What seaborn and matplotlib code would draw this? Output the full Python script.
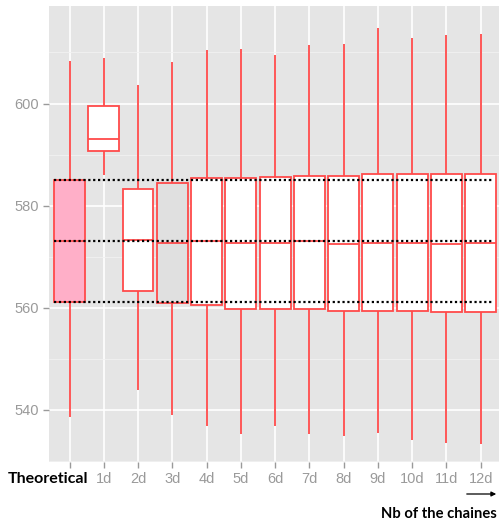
import numpy as np
import pandas as pd
import matplotlib
matplotlib.use("Agg")
import matplotlib.pyplot as plt
import seaborn as sns

categories = ["Theoretical", "1d", "2d", "3d", "4d", "5d", "6d", "7d", "8d", "9d", "10d", "11d", "12d"]
whisker_low = [538.7, 586.1, 543.9, 539.0, 536.8, 535.3, 536.8, 535.2, 534.8, 535.5, 534.1, 533.6, 533.4]
q1 = [561.2, 590.8, 563.2, 561.0, 560.5, 559.8, 559.7, 559.8, 559.4, 559.3, 559.3, 559.1, 559.1]
median = [573.1, 593.1, 573.3, 572.7, 573.1, 572.7, 572.7, 573.1, 572.5, 572.7, 572.7, 572.5, 572.7]
q3 = [585.1, 599.6, 583.2, 584.5, 585.4, 585.4, 585.6, 585.8, 585.8, 586.2, 586.2, 586.2, 586.2]
whisker_high = [608.3, 609.0, 603.6, 608.1, 610.4, 610.7, 609.6, 611.4, 611.6, 614.8, 612.9, 613.5, 613.7]
box_fill = ["#FFAFC8", "white", "white", "#E0E0E0", "white", "white", "white", "white", "white", "white", "white", "white", "white"]
reference_lines = [q3[0], median[0], q1[0]]
x_title = "Nb of the chaines"

rows = []
for i, c in enumerate(categories):
    for v in (whisker_low[i], q1[i], median[i], q3[i], whisker_high[i]):
        rows.append({"group": c, "value": v})
df = pd.DataFrame(rows)

sns.set_theme(style="darkgrid", rc={
    "axes.facecolor": "#E5E5E5",
    "grid.color": "white",
    "axes.edgecolor": "#E5E5E5",
})
plt.rcParams['font.family'] = ['Liberation Sans', 'DejaVu Sans']

fig = plt.figure(figsize=(4.99, 5.25), dpi=100)
ax = fig.add_axes([49 / 499, 1 - 462 / 525, 1 - 49 / 499, (462 - 6) / 525])

red = "#FF4A4A"
sns.boxplot(data=df, x="group", y="value", hue="group", order=categories,
            hue_order=categories, palette=dict(zip(categories, box_fill)),
            saturation=1, legend=False, whis=np.inf, showcaps=False, width=0.9,
            ax=ax, linewidth=1.3, linecolor=red, zorder=3)

ax.hlines(reference_lines, -0.45, 12.35, colors="black", linestyles=(0, (1, 1.2)),
          linewidth=1.6, zorder=5)

ax.set_xlim(-0.6, 12.535)
ax.set_ylim(529.8, 619.1)
ax.set_yticks([540, 560, 580, 600])
ax.set_yticks([530, 550, 570, 590, 610], minor=True)
ax.grid(True, which="major", color="white", linewidth=1.2, zorder=0)
ax.grid(True, which="minor", axis="y", color="#F2F2F2", linewidth=0.6, zorder=0)
ax.set_axisbelow(True)
for s in ax.spines.values():
    s.set_visible(False)

ax.tick_params(axis="both", which="major", length=4, width=1, color="#9A9A9A",
               labelcolor="#9A9A9A", labelsize=10.5, pad=3, left=True, bottom=True)
ax.tick_params(axis="both", which="minor", length=0)
ax.set_xlabel("")
ax.set_ylabel("")
ax.set_xticks(range(len(categories)))
ax.set_xticklabels([""] + categories[1:])

fig.text(48.5 / 499, 1 - 479 / 525, categories[0], fontsize=11.5, fontweight="bold",
         color="black", ha="center", va="center", family=["Lato", "DejaVu Sans"])
fig.text(381 / 499, 1 - 514 / 525, x_title, fontsize=10.6, fontweight="bold",
         color="black", ha="left", va="center", family=["Lato", "DejaVu Sans"])
fig.add_artist(matplotlib.patches.FancyArrowPatch(
    (464 / 499, 1 - 494 / 525), (499 / 499, 1 - 494 / 525),
    transform=fig.transFigure, arrowstyle="-|>", mutation_scale=7,
    color="black", linewidth=0.9))

fig.savefig("out.png", dpi=100, facecolor="white")
